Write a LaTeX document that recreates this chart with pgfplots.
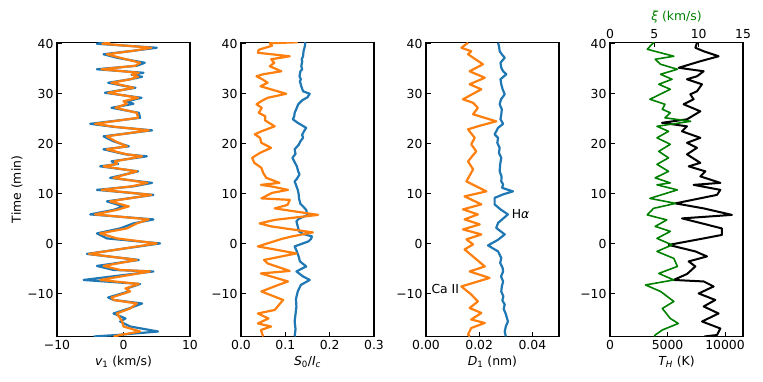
\documentclass[border=0pt]{standalone}
\usepackage{fontspec}
\setmainfont{DejaVu Sans}
\usepackage{pgfplots}
\pgfplotsset{compat=1.18}
\definecolor{mblue}{HTML}{1F77B4}
\definecolor{morange}{HTML}{FF7F0E}
\definecolor{mgreen}{HTML}{008000}
\newcommand{\fs}{\fontsize{12.4}{14}\selectfont}

\pgfplotsset{
  panel/.style={
    scale only axis, width=133pt, height=294pt, anchor=south west,
    ymin=-18.5, ymax=40.25,
    ytick={-10,0,10,20,30,40}, yticklabels={−10,0,10,20,30,40},
    scaled x ticks=false,
    tick align=inside, major tick length=4.5pt,
    xtick pos=left, ytick pos=left,
    axis line style={line width=1.6pt},
    every tick/.style={black, line width=1pt},
    tick label style={font=\fs},
    xticklabel style={font=\fs},
    label style={font=\fs},
    no markers,
    every axis plot/.append style={line width=2.2pt, line join=round},
  },
}

\begin{document}
\begin{tikzpicture}
\useasboundingbox (0,0) rectangle (763pt,382pt);

% panel 1: v1   (rows: time value)
\begin{axis}[panel, at={(57pt,45.5pt)},
  xmin=-10, xmax=10, xtick={-10,0,10}, xticklabels={−10,0,10},
  xlabel={{\itshape v}\textsubscript{1} (km/s)}, ylabel={Time (min)}, ylabel style={yshift=-2pt}]
\addplot[mblue] table[x index=1, y index=0, row sep=\\] {
40.3 -2.5\\ 40.0 -4.0\\ 39.2 5.0\\ 38.6 1.5\\ 37.9 -3.0\\ 37.2 -1.0\\ 36.2 3.2\\ 35.6 2.0\\
34.9 -4.0\\ 34.2 3.0\\ 33.8 1.2\\ 33.4 2.8\\ 32.9 1.0\\ 32.2 -2.3\\ 31.6 0.0\\ 31.2 1.8\\
30.2 -2.8\\ 29.2 2.7\\ 28.5 0.5\\ 28.0 1.5\\ 27.2 -1.8\\ 26.2 2.3\\ 25.2 2.5\\ 24.0 -5.0\\
23.4 -1.5\\ 22.7 4.3\\ 21.5 -3.0\\ 20.5 -1.5\\ 19.5 0.8\\ 18.9 -3.0\\ 17.9 0.3\\ 17.5 3.5\\
16.5 -1.8\\ 16.0 -0.8\\ 15.5 -3.5\\ 14.5 2.2\\ 13.2 -2.0\\ 12.2 4.3\\ 11.5 1.5\\ 10.8 -4.0\\
9.8 4.5\\ 8.5 -2.5\\ 7.5 0.0\\ 6.8 -1.5\\ 5.9 -5.0\\ 4.9 4.5\\ 4.1 1.5\\ 3.1 -0.5\\
2.1 -4.0\\ 1.1 -2.5\\ 0.1 5.5\\ -2.0 -5.5\\ -3.2 2.3\\ -4.4 -4.0\\ -5.2 -1.5\\ -5.5 4.5\\
-7.2 -6.0\\ -8.0 2.5\\ -8.9 0.5\\ -9.5 0.8\\ -10.7 -2.3\\ -11.2 -1.5\\ -11.9 2.8\\ -12.9 0.8\\
-13.9 -1.5\\ -14.9 0.3\\ -15.5 -0.5\\ -16.5 1.0\\ -17.5 5.2\\ -18.2 -1.0\\ -18.5 -4.5\\
};
\addplot[morange] table[x index=1, y index=0, row sep=\\] {
40.3 -2.0\\ 40.0 -3.2\\ 39.2 4.2\\ 38.6 1.5\\ 37.9 -2.5\\ 37.2 -0.5\\ 36.2 2.5\\ 35.6 1.8\\
34.9 -3.3\\ 34.2 2.3\\ 33.8 1.3\\ 33.4 2.2\\ 32.9 1.0\\ 32.2 -1.8\\ 31.6 0.2\\ 31.2 1.5\\
30.2 -2.3\\ 29.2 2.2\\ 28.5 0.0\\ 28.0 0.5\\ 27.2 -1.2\\ 26.2 2.0\\ 25.2 2.2\\ 24.0 -4.3\\
23.4 -1.3\\ 22.7 3.8\\ 21.5 -2.5\\ 20.5 -1.2\\ 19.5 0.5\\ 18.9 -2.5\\ 17.9 0.5\\ 17.5 2.8\\
16.5 -1.3\\ 16.0 -1.0\\ 15.5 -3.0\\ 14.5 2.0\\ 13.2 -1.5\\ 12.2 3.6\\ 11.5 1.2\\ 10.8 -3.3\\
9.8 4.2\\ 8.5 -2.0\\ 7.5 0.8\\ 6.8 -1.0\\ 5.9 -4.3\\ 4.9 3.8\\ 4.1 2.0\\ 3.1 0.5\\
2.1 -3.5\\ 1.1 -1.0\\ 0.1 5.0\\ -2.0 -5.2\\ -3.2 2.0\\ -4.4 -3.0\\ -5.2 -0.5\\ -5.5 4.0\\
-7.2 -3.5\\ -8.0 2.3\\ -8.9 0.3\\ -9.5 1.0\\ -10.7 -1.8\\ -11.2 -1.5\\ -11.9 2.0\\ -12.9 1.0\\
-13.9 -1.0\\ -14.9 -0.5\\ -15.5 -0.2\\ -16.5 0.0\\ -17.5 2.5\\ -18.2 -0.5\\ -18.5 -1.5\\
};
\end{axis}

% panel 2: S0/Ic
\begin{axis}[panel, at={(241pt,45.5pt)},
  xmin=0, xmax=0.3, xtick={0,0.1,0.2,0.3}, xticklabels={0.0,0.1,0.2,0.3},
  xlabel={{\itshape S}\textsubscript{0}/{\itshape I}\textsubscript{\itshape c}}]
\addplot[mblue] table[x index=1, y index=0, row sep=\\] {
40.3 0.145\\ 39.5 0.144\\ 38.8 0.142\\ 38.5 0.141\\ 37.5 0.140\\ 36.9 0.137\\ 36.5 0.138\\ 35.5 0.136\\
34.9 0.138\\ 34.5 0.134\\ 33.5 0.132\\ 32.9 0.135\\ 32.5 0.133\\ 31.5 0.136\\ 30.5 0.140\\ 30.0 0.155\\
29.3 0.150\\ 28.7 0.138\\ 27.9 0.129\\ 27.0 0.125\\ 26.2 0.121\\ 25.5 0.120\\ 24.9 0.117\\ 24.2 0.128\\
23.2 0.147\\ 22.5 0.142\\ 21.8 0.138\\ 21.2 0.140\\ 20.5 0.134\\ 19.8 0.130\\ 18.9 0.121\\ 18.0 0.123\\
17.2 0.116\\ 16.5 0.120\\ 15.5 0.126\\ 14.5 0.129\\ 13.9 0.132\\ 13.0 0.126\\ 12.5 0.121\\ 11.8 0.124\\
10.8 0.128\\ 10.0 0.130\\ 9.0 0.131\\ 8.0 0.134\\ 7.5 0.140\\ 6.8 0.147\\ 5.8 0.150\\ 5.0 0.130\\
4.5 0.125\\ 3.5 0.128\\ 2.5 0.131\\ 2.0 0.140\\ 1.5 0.160\\ 1.0 0.158\\ 0.5 0.152\\ -0.5 0.121\\
-1.5 0.126\\ -2.5 0.130\\ -3.5 0.133\\ -4.5 0.147\\ -5.5 0.125\\ -6.5 0.140\\ -7.2 0.155\\ -8.2 0.135\\
-9.5 0.128\\ -11.0 0.124\\ -12.5 0.125\\ -14.0 0.123\\ -15.5 0.121\\ -17.0 0.123\\ -18.5 0.121\\
};
\addplot[morange] table[x index=1, y index=0, row sep=\\] {
40.3 0.128\\ 40.1 0.065\\ 39.6 0.070\\ 38.8 0.040\\ 38.2 0.038\\ 37.5 0.110\\ 36.9 0.068\\ 36.2 0.075\\
35.5 0.065\\ 34.5 0.091\\ 33.9 0.050\\ 33.5 0.035\\ 32.9 0.048\\ 32.2 0.060\\ 31.5 0.044\\ 30.0 0.102\\
29.2 0.060\\ 28.5 0.045\\ 27.9 0.035\\ 27.2 0.047\\ 26.2 0.040\\ 25.5 0.055\\ 24.7 0.054\\ 23.5 0.076\\
22.5 0.046\\ 21.9 0.031\\ 21.2 0.043\\ 20.2 0.046\\ 19.2 0.068\\ 18.2 0.043\\ 17.2 0.025\\ 16.2 0.030\\
15.2 0.046\\ 14.2 0.050\\ 13.2 0.057\\ 12.2 0.087\\ 11.8 0.045\\ 11.5 0.068\\ 10.8 0.106\\ 10.2 0.070\\
9.1 0.046\\ 8.8 0.110\\ 7.8 0.105\\ 7.1 0.076\\ 5.8 0.174\\ 4.8 0.076\\ 4.1 0.042\\ 3.5 0.068\\
2.3 0.162\\ 1.5 0.115\\ 1.0 0.092\\ -0.5 0.038\\ -1.9 0.125\\ -3.2 0.052\\ -3.9 0.060\\ -5.4 0.110\\
-5.9 0.045\\ -7.5 0.106\\ -8.2 0.084\\ -9.5 0.046\\ -11.2 0.095\\ -13.2 0.076\\ -13.9 0.038\\ -14.9 0.062\\
-15.9 0.038\\ -16.5 0.068\\ -17.2 0.045\\ -18.5 0.050\\
};
\end{axis}

% panel 3: D1
\begin{axis}[panel, at={(426pt,45.5pt)},
  xmin=0, xmax=0.05, xtick={0,0.02,0.04}, xticklabels={0.00,0.02,0.04},
  xlabel={{\itshape D}\textsubscript{1} (nm)}]
\addplot[mblue] table[x index=1, y index=0, row sep=\\] {
40.2 0.0271\\ 39.3 0.0275\\ 38.5 0.0277\\ 37.9 0.0285\\ 37.2 0.0296\\ 36.2 0.0280\\ 35.2 0.0283\\ 34.5 0.0290\\
33.9 0.0302\\ 32.9 0.0280\\ 31.9 0.0283\\ 30.9 0.0288\\ 29.9 0.0296\\ 28.9 0.0282\\ 27.9 0.0277\\ 26.9 0.0285\\
25.9 0.0283\\ 24.9 0.0280\\ 24.0 0.0290\\ 23.2 0.0271\\ 21.9 0.0258\\ 21.2 0.0271\\ 20.2 0.0268\\ 19.2 0.0277\\
18.2 0.0274\\ 17.2 0.0283\\ 16.0 0.0279\\ 14.5 0.0277\\ 13.5 0.0284\\ 12.5 0.0283\\ 11.9 0.0290\\ 11.2 0.0286\\
10.5 0.0327\\ 9.9 0.0290\\ 9.2 0.0258\\ 7.9 0.0258\\ 6.9 0.0280\\ 5.9 0.0308\\ 4.2 0.0271\\ 3.2 0.0264\\
1.9 0.0296\\ 0.8 0.0270\\ -0.3 0.0233\\ -1.5 0.0271\\ -2.8 0.0283\\ -3.8 0.0279\\ -4.8 0.0288\\ -5.5 0.0290\\
-6.5 0.0282\\ -7.5 0.0290\\ -8.5 0.0285\\ -9.5 0.0283\\ -10.5 0.0291\\ -11.3 0.0287\\ -12.1 0.0296\\ -13.0 0.0292\\
-14.0 0.0300\\ -15.5 0.0308\\ -16.5 0.0300\\ -17.5 0.0296\\ -18.5 0.0300\\
};
\addplot[morange] table[x index=1, y index=0, row sep=\\] {
40.2 0.0158\\ 39.2 0.0133\\ 38.5 0.0170\\ 37.9 0.0158\\ 35.9 0.0214\\ 34.5 0.0164\\ 33.2 0.0221\\ 31.9 0.0164\\
30.9 0.0208\\ 28.9 0.0139\\ 28.2 0.0177\\ 27.2 0.0195\\ 25.9 0.0177\\ 24.5 0.0264\\ 23.7 0.0208\\ 22.9 0.0158\\
21.2 0.0183\\ 19.9 0.0170\\ 18.5 0.0189\\ 16.5 0.0158\\ 14.9 0.0177\\ 12.5 0.0152\\ 11.5 0.0189\\ 10.5 0.0227\\
9.5 0.0145\\ 7.9 0.0208\\ 6.9 0.0139\\ 5.9 0.0195\\ 4.9 0.0145\\ 3.9 0.0202\\ 2.9 0.0139\\ 1.9 0.0208\\
0.9 0.0152\\ -0.1 0.0177\\ -1.1 0.0145\\ -2.8 0.0183\\ -4.5 0.0221\\ -5.5 0.0164\\ -6.8 0.0239\\ -8.5 0.0133\\
-10.1 0.0170\\ -11.5 0.0195\\ -12.8 0.0164\\ -13.8 0.0208\\ -15.1 0.0170\\ -15.8 0.0221\\ -16.8 0.0170\\ -18.1 0.0158\\
-18.5 0.0165\\
};
\node[anchor=west, inner sep=0pt, font=\fs] at (axis cs:0.0322,6.0) {H{\itshape α}};
\node[anchor=west, inner sep=0pt, font=\fs] at (axis cs:0.002,-9.1) {Ca II};
\end{axis}

% panel 4: T_H (bottom) and xi (top)
\begin{axis}[panel, at={(610pt,45.5pt)},
  xmin=0, xmax=11560, xtick={0,5000,10000}, xticklabels={0,5000,10000},
  xlabel={{\itshape T}\textsubscript{\itshape H} (K)},
  every axis plot/.append style={line width=2pt}]
\addplot[black] table[x index=1, y index=0, row sep=\\] {
40.3 7700\\ 40.2 7560\\ 39.2 7420\\ 38.5 8140\\ 37.5 9440\\ 36.5 7850\\ 35.2 5970\\ 34.5 8140\\
33.5 7560\\ 32.9 6690\\ 31.9 7990\\ 30.5 7560\\ 29.9 6980\\ 28.9 7270\\ 27.9 6400\\ 26.5 7850\\
24.9 6690\\ 24.2 4520\\ 23.5 6690\\ 22.5 6260\\ 21.2 7850\\ 20.2 6690\\ 19.2 7560\\ 17.9 6690\\
16.2 7850\\ 15.5 6840\\ 14.5 8290\\ 13.5 7850\\ 12.2 9590\\ 11.8 7270\\ 10.8 9590\\ 9.8 9300\\
8.1 5680\\ 7.1 8140\\ 5.8 10600\\ 5.1 6260\\ 3.1 9730\\ 1.8 9730\\ 1.1 8140\\ -0.2 5100\\
-1.5 7420\\ -2.5 8430\\ -3.5 6840\\ -4.5 7420\\ -6.0 6700\\ -7.2 5530\\ -7.5 8140\\ -8.5 9010\\
-9.9 7710\\ -11.2 9150\\ -12.5 8140\\ -13.9 9440\\ -15.5 8000\\ -16.9 9590\\ -18.2 9300\\ -18.5 8200\\
};
\end{axis}
\begin{axis}[panel, at={(610pt,45.5pt)},
  xmin=0, xmax=15, xtick={0,5,10,15}, xticklabels={0,5,10,15},
  axis x line*=top, xtick pos=right, hide y axis,
  xlabel={{\itshape ξ} (km/s)}, xlabel style={text=mgreen},
  every axis plot/.append style={line width=1.6pt}]
\addplot[mgreen] table[x index=1, y index=0, row sep=\\] {
40.3 5.0\\ 40.2 4.9\\ 38.9 4.2\\ 37.5 7.2\\ 36.9 5.1\\ 35.9 5.7\\ 34.9 7.6\\ 33.9 5.7\\
32.9 7.0\\ 31.9 5.5\\ 30.9 6.8\\ 28.9 4.5\\ 27.9 6.2\\ 26.9 5.9\\ 26.2 6.8\\ 25.2 6.2\\
24.5 9.1\\ 23.5 5.3\\ 22.5 6.6\\ 21.2 5.3\\ 19.9 6.8\\ 18.5 5.5\\ 17.2 6.6\\ 15.9 5.3\\
14.5 6.6\\ 13.2 5.1\\ 12.2 6.8\\ 11.8 5.3\\ 10.8 7.6\\ 9.1 4.5\\ 8.1 7.4\\
7.1 4.9\\ 5.8 4.2\\ 4.8 6.4\\ 3.5 5.1\\ 2.5 6.8\\ 1.1 5.3\\ -0.2 7.0\\ -1.5 5.3\\
-2.9 7.2\\ -4.5 7.6\\ -5.9 5.5\\ -7.2 7.2\\ -8.2 4.0\\ -9.5 5.7\\ -11.5 7.2\\ -12.9 5.9\\
-14.9 6.8\\ -15.9 7.7\\ -17.2 5.9\\ -18.2 5.1\\ -18.5 5.0\\
};
\end{axis}
\end{tikzpicture}
\end{document}
